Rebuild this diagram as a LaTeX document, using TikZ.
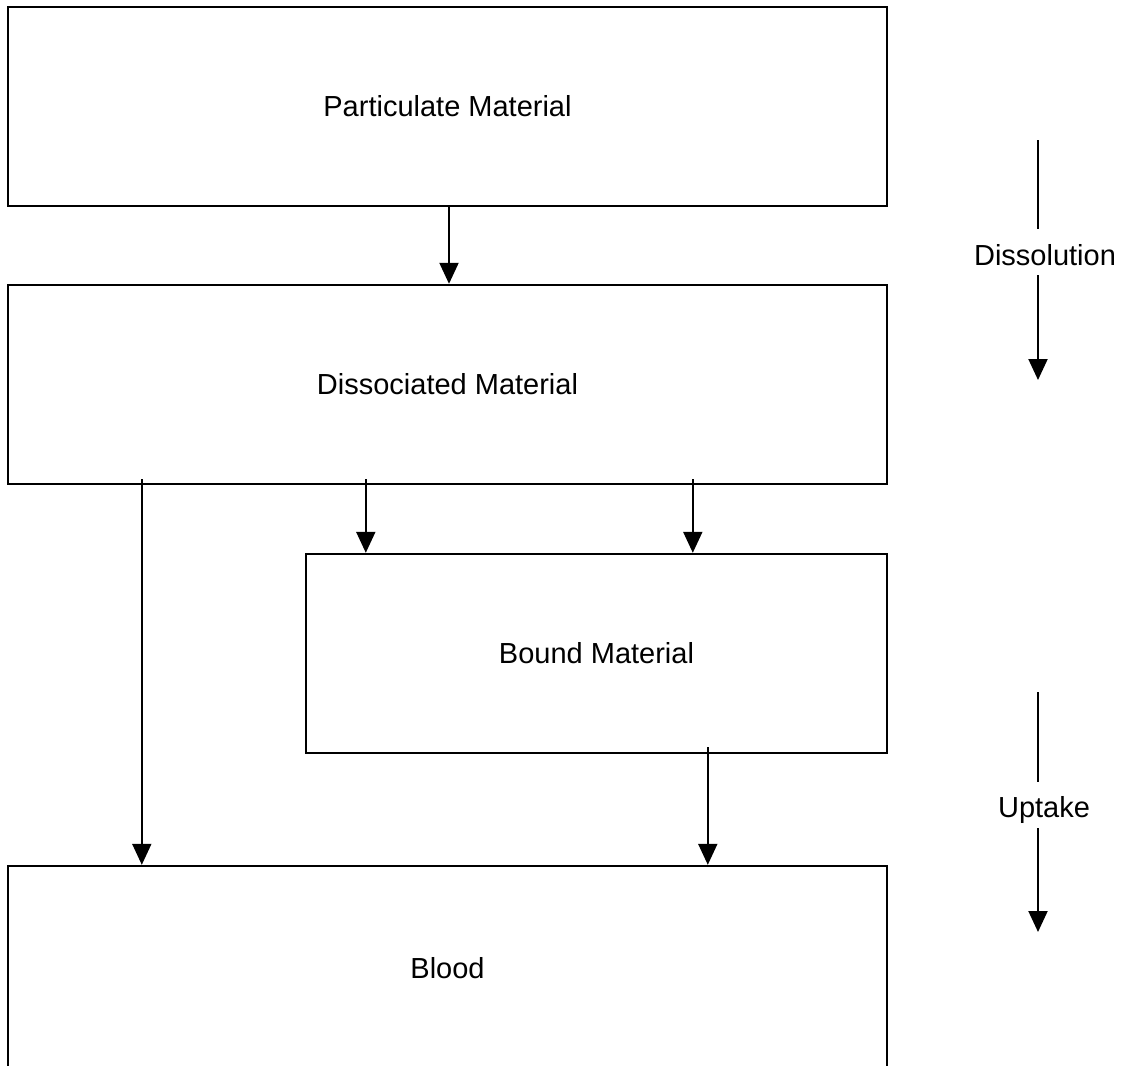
\documentclass[tikz,border=0pt]{standalone}
\usepackage{fontspec}
\setmainfont{Liberation Sans}
\usetikzlibrary{arrows.meta,calc}

\begin{document}
\begin{tikzpicture}[x=0.5pt,y=-0.5pt,
    box/.style={draw, line width=1.2pt, inner sep=0pt, minimum width=439.5pt, minimum height=99.5pt,
      font=\fontsize{14.5}{17}\selectfont},
    arr/.style={line width=1pt, -{Triangle[width=9.5pt,length=10.5pt]}},
    lbl/.style={anchor=base, font=\fontsize{14.5}{17}\selectfont}]
    \useasboundingbox (0,0) rectangle (1123,1065);

    % Boxes
    \node[box] (part) at (447.5,106.5) {Particulate Material};
    \node[box] (diss) at (447.5,384.5) {Dissociated Material};
    \node[box, minimum width=290.5pt] (bound) at (596.5,653.5) {Bound Material};
    \node[box, minimum height=102pt] (blood) at (447.5,968) {Blood};

    % Arrows between boxes
    \draw[arr] ($(part.south)+(1.5,0)$) -- ($(diss.north)+(1.5,0)$);
    \draw[arr] ($(diss.south west)+(135,-6)$) -- ($(blood.north west)+(135,0)$);
    \draw[arr] ($(diss.south west)+(359,-6)$) -- ($(bound.north west)+(61,0)$);
    \draw[arr] ($(diss.south west)+(686,-6)$) -- ($(bound.north west)+(388,0)$);
    \draw[arr] ($(bound.south west)+(403,-7)$) -- ($(blood.north west)+(701,0)$);

    % Dissolution
    \node[lbl] (dissol) at (1045,265) {Dissolution};
    \coordinate (dsA) at (1038,140);
    \coordinate (dsB) at (1038,229);
    \coordinate (dsC) at (1038,275);
    \coordinate (dsD) at (1038,380);
    \draw[line width=1pt] (dsA) -- (dsB);
    \draw[arr] (dsC) -- (dsD);

    % Uptake
    \node[lbl] (uptake) at (1044,817) {Uptake};
    \coordinate (upA) at (1038,692);
    \coordinate (upB) at (1038,782);
    \coordinate (upC) at (1038,828);
    \coordinate (upD) at (1038,932);
    \draw[line width=1pt] (upA) -- (upB);
    \draw[arr] (upC) -- (upD);
\end{tikzpicture}
\end{document}
